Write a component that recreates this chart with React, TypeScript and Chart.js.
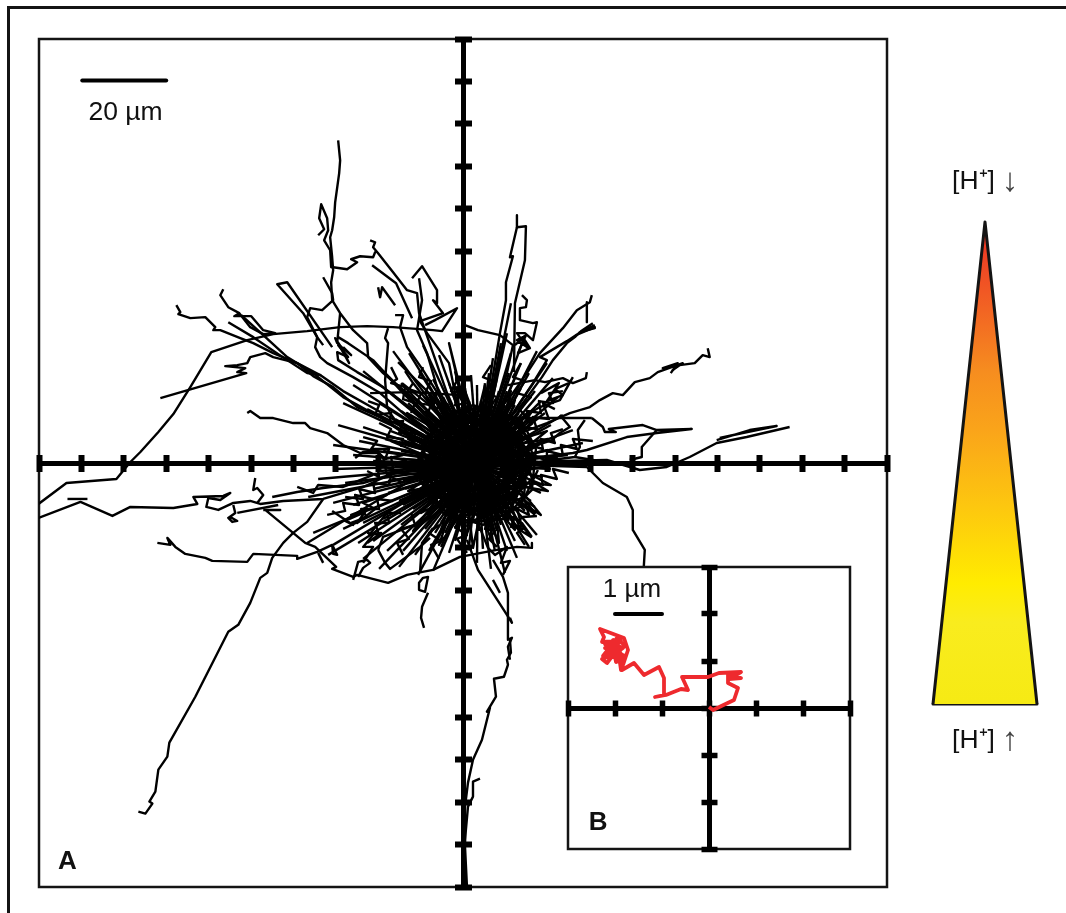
import React, { useEffect, useRef } from "react";
import { Chart, registerables } from "chart.js";

Chart.register(...registerables);

// Panel A readings: flat [x, y, x, y ...] lists, read in graph divisions of 10 um = 42.45 units.
const UNITS_PER_UM_A = 4.245;
const UNITS_PER_UM_B = 47;

const trackTop = [-125,323,-123,303,-124,290,-128,261,-129,246,-131,233,-133,226,-131,206,-130,193,-132,181,-131,163,-123,150,-110,133,-96,120,-95,106,-80,90,-56,70,-36,53,-6,26,15,5];
const trackWiggle = [-145,228,-139,234,-144,245,-142,259,-136,245,-135,233,-139,223,-133,213,-132,196,-130,196,-116,194,-106,201,-112,204,-103,207,-90,206,-88,211,-86,212];
const trackHook = [-140,186,-131,170,-130,163,-141,153,-153,155,-156,146,-146,126,-148,116,-143,106,-136,100,-110,86,-83,70,-60,50,-40,33,-6,10];
const trackArc = [-425,-41,-397,-20,-347,-16,-333,1,-323,11,-305,31,-290,49,-273,76,-252,111,-216,123,-190,129,-156,132,-123,136,-96,137,-70,136,-30,133,-21,132,-6,155,-28,143,-38,138];
const trackArcEnd = [2,138,15,133,37,128,50,118,44,90,30,50];
const trackLeftUp = [-303,65,-217,90,-226,91,-218,95,-238,97,-226,98,-216,100,-213,106,-198,110,-190,106,-166,100,-143,88,-120,72,-90,55,-60,38,-30,20,0,5];
const trackLeftHook = [-287,158,-283,151,-285,149,-273,145,-258,146,-248,136,-250,133,-243,133,-223,125,-210,120,-190,110,-166,100,-150,87,-130,76,-106,56,-83,46,-60,30,-36,16,-10,3];
const trackWedge = [-240,174,-243,168,-235,156,-224,150,-229,147,-212,147,-200,133,-188,130,-200,129,-213,136,-224,150];
const trackWedge2 = [-235,141,-210,126,-176,103,-156,90,-142,88];
const trackWedge3 = [-222,148,-200,128,-176,106,-150,90,-120,66,-80,44,-40,20];
const trackBlade = [-131,116,-176,181,-186,179,-160,150,-146,126,-140,118];
const trackNorth1 = [-93,223,-88,221,-90,216,-85,210,-70,191,-56,173,-46,170,-44,150,-30,110,-16,70,2,30];
const trackNorth2 = [-51,185,-41,197,-26,173,-26,160,-30,163,-20,150,-43,142,-36,130,-14,100,-6,60];
const trackNorth3 = [-44,185,-41,163,-46,133,-36,110,-23,66,-6,33];
const trackNorth4 = [-91,198,-75,186,-67,180,-51,145];
const trackNorth5 = [-85,176,-83,166,-81,176,-68,158];
const trackNorth6 = [-68,148,-60,148,-63,136,-56,116,-40,93,-23,66,-6,33];
const trackNorth7 = [-75,135,-78,125,-75,120,-78,83,-76,56,-73,50,-66,40,-30,10];
const trackNorth8 = [-123,150,-126,120,-128,125,-120,113,-125,118,-115,106,-126,111,-125,103,-106,91,-80,76,-46,50,-23,26];
const trackNorth9 = [-125,126,-115,120,-90,103,-60,70,-30,40];
const trackNorth10 = [-120,116,-112,108,-124,118,-114,100,-120,112,-116,104];
const trackNorth11 = [-65,101,-30,66,-10,30];
const trackNorth12 = [-93,70,-53,71,-3,68];
const trackNorth13 = [-61,80,-36,60,-8,30];
const trackNorth14 = [-10,80,0,60,-14,120,6,40];
const trackLower = [-216,50,-213,52,-203,45,-190,45,-170,40,-158,40,-153,35,-136,30,-120,18,-103,10,-86,10,-80,5,-76,-12,-60,-20];
const trackLower2 = [-108,5,-100,11,-86,12,-78,4];
const trackPeak1 = [54,248,54,236,63,237,62,203,52,160,51,91];
const trackPeak2 = [54,236,47,206,50,207,43,181,43,163,37,130,27,70,17,56];
const trackPeak3 = [48,160,36,100,28,60];
const trackScribble = [59,168,64,163,63,156,57,155,57,143,70,140,74,141,70,123,62,130,54,130,64,116,54,123,60,126,67,115,55,110,63,128,52,118];
const trackFork = [129,168,127,161,114,153,100,135,77,110,64,90,47,66,30,46];
const trackFork2 = [124,161,124,141];
const trackThick = [132,138,124,134,132,135,117,131,112,126,104,120,90,103,79,86,60,60,34,30];
const trackThick2 = [130,140,118,132,132,136,113,128,104,122,77,106,84,103,70,80,50,50];
const trackEast = [245,115,247,106,240,108,232,100,217,98,210,93,220,100,195,91,187,85,172,81,160,68,150,70,137,63,127,56,107,50,84,40,57,30,30,20];
const trackEast2 = [211,97,200,95,215,100,208,90];
const trackBranch = [124,91,123,85,110,80,100,85,82,81,72,83,45,78];
const trackBranch2 = [110,86,97,63,77,56,50,40];
const trackBranch3 = [106,80,92,74,100,68,84,62,96,80,78,70];
const trackRightA = [97,48,107,36,97,30,90,24];
const trackRightB = [129,45,140,36,142,31,153,31,146,34,180,38,194,33,229,34,194,30,164,26,124,13,110,10,60,4];
const trackRightC = [30,45,129,45];
const trackRightD = [194,33,179,16,179,6,167,3];
const trackRightE = [122,43,115,33,117,16,112,6,80,2];
const trackFar = [254,23,287,33,314,37,280,30,257,25];
const trackFar2 = [327,36,284,26,254,20,227,6,204,-4,177,-7,144,3,100,2,60,0];
const trackAxisNear = [112,6,130,3,144,0,170,-2];
const trackToInset = [60,-2,124,-4,140,-20,164,-34,170,-47,170,-67,182,-87,181,-104];
const trackSouthBlade = [74,-53,60,-54,54,-59];
const trackSouthBlade2 = [69,-74,59,-60,57,-67,68,-74,54,-56];
const trackSweep = [69,-80,69,-85,54,-84,34,-87,-3,-94,-30,-107,-56,-112,-75,-120,-106,-112,-110,-114,-131,-106,-127,-104,-148,-84,-158,-80,-198,-47,-183,-47,-200,-47];
const trackWestLong = [-425,-55,-383,-39,-351,-53,-333,-44,-290,-45,-266,-41,-270,-34,-240,-33,-233,-30,-243,-37,-255,-35,-257,-44,-245,-47,-230,-40,-213,-38,-203,-41,-180,-38,-140,-36,-100,-24,-63,-7];
const trackWestDash = [-396,-36,-376,-36];
const trackWestLoop = [-233,-54,-226,-58,-231,-59,-235,-55,-228,-50,-230,-42];
const trackWestLine = [-226,-50,-185,-42];
const trackWestStem = [-208,-15,-210,-27,-206,-25,-200,-32,-206,-40];
const trackWestUpper = [-191,-34,-166,-29,-140,-25,-100,-20,-60,-8];
const trackWestUpper2 = [-166,-24,-150,-30,-145,-22,-120,-24,-90,-12];
const trackWestCluster = [-131,-48,-110,-62,-118,-58,-100,-50,-112,-52,-96,-46,-106,-60,-88,-46,-100,-40,-76,-32];
const trackMidWest = [-306,-80,-293,-82,-296,-75,-288,-84,-278,-91,-258,-95,-251,-98,-216,-99,-210,-91,-166,-93,-166,-96,-146,-89,-131,-82,-126,-92,-130,-91,-131,-82];
const trackDiag1 = [-156,-80,-80,-34,-46,-14];
const trackDiag2 = [-130,-82,-43,-30];
const trackDiag3 = [-140,-100,-145,-90];
const trackLongDown = [-140,-36,-156,-59,-170,-70,-180,-80,-191,-95,-196,-110,-203,-115,-213,-140,-225,-162,-235,-169,-268,-234,-294,-280,-296,-294,-305,-307,-308,-329,-314,-339,-311,-341,-318,-351,-325,-349];
const trackPocket = [-110,-117,-108,-110,-105,-99,-96,-97,-93,-100,-100,-105,-105,-114];
const trackPocket2 = [-86,-67,-100,-84,-90,-84,-100,-100];
const trackPocket3 = [-76,-50,-86,-62,-94,-72,-82,-70,-96,-80];
const trackBox = [-85,-87,-78,-100,-73,-106,-43,-84,-33,-75];
const trackBox2 = [-85,-87,-80,-74,-43,-60,-20,-40];
const trackStem = [-43,-109,-41,-80,-30,-65];
const trackCurl = [-44,-127,-38,-129,-35,-114,-40,-115,-44,-120,-44,-127];
const trackCurl2 = [-35,-130,-41,-144,-42,-155,-39,-165];
const trackSouth1 = [4,-77,15,-107,44,-152,49,-160,47,-155];
const trackSouth2 = [30,-97,40,-114,45,-130,45,-177,49,-175,45,-184,47,-197];
const trackSouth3 = [30,-117,37,-130];
const trackSouth4 = [47,-177,48,-190,44,-197,45,-202,41,-214,31,-216,33,-234,24,-249,27,-245,19,-277,10,-297,5,-320,2,-344,2,-384,4,-425];
const trackSouth5 = [17,-316,10,-319,10,-334,5,-344,2,-377,0,-425];
const trackSouth6 = [15,-60,25,-85,32,-92,44,-84,38,-100,47,-98,40,-112];

// Tangled strands round the central cluster.
const tangleNW1 = [-58,92,-50,80,-54,74,-42,70,-46,60,-32,58,-36,48,-24,42];
const tangleNW2 = [-95,62,-84,58,-88,48,-72,50,-74,40,-60,42,-64,30,-48,30,-50,20];
const tangleNW3 = [-72,96,-66,84,-72,80,-58,76,-60,64,-48,60,-52,50];
const tangleNW4 = [-40,96,-44,86,-32,82,-38,70,-26,70,-30,56,-18,54];
const tangleN1 = [-5,84,-12,72,-2,70,-8,58,4,60];
const tangleN2 = [28,98,20,86,30,82,22,70,34,66,26,54];
const tangleNE1 = [58,100,50,86,62,82,54,70,68,66,56,54,66,44];
const tangleNE2 = [100,72,86,70,90,60,76,62,78,50,64,52,66,40];
const tangleNE3 = [92,54,80,60,86,44,70,46,74,34,60,36];
const tangleE1 = [130,22,110,24,114,14,98,18,100,8,84,12,84,2,70,8];
const tangleE2 = [100,34,88,30,92,20,78,24,80,14,66,18];
const tangleE3 = [106,-10,90,-6,94,-16,78,-12,80,-22,66,-16];
const tangleSE1 = [72,-44,62,-38,66,-52,54,-46,58,-60,46,-52];
const tangleSE2 = [62,-82,54,-70,60,-66,48,-64,52,-54,40,-56];
const tangleS1 = [34,-84,26,-76,32,-68,22,-66,26,-56];
const tangleS2 = [4,-90,-6,-76,4,-72,-8,-64,2,-58];
const tangleS3 = [-24,-96,-32,-82,-22,-78,-34,-70,-24,-62];
const tangleSW1 = [-60,-92,-66,-80,-54,-76,-62,-66,-48,-62,-52,-50];
const tangleSW2 = [-96,-70,-84,-72,-88,-60,-74,-60,-76,-50,-62,-50];
const tangleW1 = [-118,-34,-100,-36,-104,-26,-88,-30,-90,-20,-74,-22,-72,-12];
const tangleW2 = [-136,-52,-118,-48,-120,-40,-104,-42,-108,-32,-90,-36];
const tangleW3 = [-96,-8,-84,-14,-86,-2,-70,-6,-72,6,-56,2];
const tangleW4 = [-112,-60,-96,-54,-102,-46,-84,-46,-86,-36,-70,-38];
const tangleWN1 = [-100,26,-86,22,-92,14,-74,14,-78,4,-60,8];
const tangleWN2 = [-84,40,-72,34,-76,26,-60,24,-62,16];

// Back-and-forth passes that make up the solid core.
const coreA = [65,-2,6,47,-32,-19,40,-45,53,30,-23,30,-10,-45,62,-19,24,47,-35,-2,24,-51,62,15,-10,41,-23,-34,53,-34,40,41,-32,15,6,-51,65,-2];
const coreB = [60,6,-1,41,-25,-25,45,-37,45,33,-25,21,-1,-45,60,-10,15,44,-30,-10,31,-45,55,21,-15,33,-15,-37,55,-25,31,41,-30,6,15,-48,60,6];
const coreC = [71,3,39,49,-17,44,-41,-7,-9,-53,47,-48,71,3,66,22,20,54,-31,30,-36,-26,10,-58,61,-34,66,22,55,38,0,52,-39,12,-25,-42,29,-56,69,-16,55,38];
const coreD = [73,14,49,47,10,58,-27,40,-45,3,-34,-36,-1,-60,40,-56,69,-27,73,14,64,32,31,56,-10,52,-39,23,-43,-18,-19,-51,20,-62,57,-44,75,-7];
const coreE = [51,-2,9,33,-19,-14,33,-33,43,21,-13,21,-3,-33,49,-14,21,33,-21,-2,21,-37,49,10,-3,29,-13,-25,43,-25,33,29,-19,10,9,-37,51,-2];
const coreG = [58,23,15,48,-28,23,-28,-27,15,-52,58,-27,58,23,47,36,-2,45,-34,7,-17,-40,32,-49,64,-11,47,36,64,7,32,45,-17,36,-34,-11,-2,-49,47,-40,64,7];
const coreH = [53,30,6,47,-32,15,-23,-34,24,-51,62,-19,53,30,62,15,24,47,-23,30,-32,-19,6,-51,53,-34,62,15];
const coreI = [55,-2,29,36,-16,24,-20,-22,22,-41,54,-9,35,33,-11,29,-23,-16,15,-42,53,-16,41,29,-5,33,-24,-9,8,-41,50,-22,46,24,1,36,-25,-2,1,-40,46,-28,50,18,8,37,-24,5,-5,-37,41,-33,53,12,15,38,-23,12,-11,-33,35,-37,54,5,22,37,-20,18,-16,-28,29,-40,55,-2];
const fringeA = [90,-2,54,5,85,24,50,18,72,46,41,29,52,63,29,36,28,72,15,38,2,72,1,36,-22,63,-11,29,-42,46,-20,18,-55,24,-24,5,-60,-2,-24,-9,-55,-28,-20,-22,-42,-50,-11,-33,-22,-67,1,-40,2,-76,15,-42,28,-76,29,-40,52,-67,41,-33,72,-50,50,-22,85,-28,54,-9,90,-2];
const fringeB = [95,5,54,8,84,32,48,21,70,53,38,31,48,72,25,37,22,78,12,37,-6,76,-2,34,-34,68,-14,26,-56,50,-21,14,-72,22,-25,2,-75,-10,-24,-12,-65,-42,-18,-25,-50,-68,-8,-35,-24,-82,5,-41,10,-85,19,-42,36,-80,32,-38,58,-68,43,-30,78,-52,51,-19,88,-22,55,-5,95,5];

// Ends of the short runs leaving the central cluster, going round it.
const clusterCentre = [15, -2];
const clusterEndsX = [95,70,105,62,85,60,120,70,92,65,110,72,60,88,58,100,70,55,82,60,95,66,50,78,56,90,62,48,72,52,84,58,45,66,48,74,52,42,58,44,62,46,38,48,36,44,34,30,38,28,30,24,26,20,22,18,14,12,8,6,2,-2,-8,-8,-14,-16,-24,-20,-30,-26,-40,-30,-44,-32,-54,-38,-50,-38,-70,-46,-62,-44,-84,-55,-72,-50,-100,-62,-84,-54,-110,-68,-96,-60,-120,-72,-100,-58,-125,-78,-104,-62,-130,-80,-110,-60,-90,-64,-130,-85,-145,-68,-118,-75,-155,-90,-60,-130,-75,-110,-58,-150,-85,-120,-64,-100,-60,-135,-80,-105,-56,-90,-50,-100,-62,-76,-44,-84,-50,-60,-36,-64,-38,-48,-30,-45,-28,-34,-22,-30,-18,-22,-14,-14,-8,-8,-4,0,4,6,10,14,16,20,20,28,26,32,28,42,34,44,34,54,38,52,40,66,46,60,44,74,50,62,46,72,50,68,48,78,54,70,50,80,56,88,60,100,64];
const clusterEndsY = [2,5,8,8,13,12,20,18,24,22,33,30,28,38,32,48,40,36,50,42,66,52,42,62,50,85,60,46,72,58,100,75,55,90,66,112,85,58,100,72,128,90,62,110,72,130,85,62,120,72,105,66,90,60,80,62,78,58,88,62,75,56,92,62,80,60,108,66,84,60,118,70,92,60,110,66,80,52,112,64,80,50,96,60,70,44,92,52,60,36,78,44,54,30,60,32,36,20,38,24,22,12,18,12,8,4,2,-2,-6,-8,-16,-10,-20,-18,-34,-26,-18,-40,-30,-42,-26,-70,-44,-66,-38,-60,-42,-92,-56,-80,-44,-78,-46,-96,-62,-88,-50,-106,-64,-88,-52,-104,-66,-92,-56,-112,-70,-88,-60,-108,-70,-84,-58,-90,-66,-78,-58,-92,-64,-84,-58,-100,-68,-86,-56,-106,-68,-88,-56,-110,-68,-88,-56,-95,-62,-78,-52,-84,-58,-64,-46,-72,-50,-48,-38,-52,-32,-38,-24,-30,-22,-22,-14,-14,-10,-6,-4,-2,1];

const tracksA = [trackTop,trackWiggle,trackHook,trackArc,trackArcEnd,trackLeftUp,trackLeftHook,trackWedge,trackWedge2,trackWedge3,trackBlade,trackNorth1,trackNorth2,trackNorth3,trackNorth4,trackNorth5,trackNorth6,trackNorth7,trackNorth8,trackNorth9,trackNorth10,trackNorth11,trackNorth12,trackNorth13,trackNorth14,trackLower,trackLower2,trackPeak1,trackPeak2,trackPeak3,trackScribble,trackFork,trackFork2,trackThick,trackThick2,trackEast,trackEast2,trackBranch,trackBranch2,trackBranch3,trackRightA,trackRightB,trackRightC,trackRightD,trackRightE,trackFar,trackFar2,trackAxisNear,trackToInset,trackSouthBlade,trackSouthBlade2,trackSweep,trackWestLong,trackWestDash,trackWestLoop,trackWestLine,trackWestStem,trackWestUpper,trackWestUpper2,trackWestCluster,trackMidWest,trackDiag1,trackDiag2,trackDiag3,trackLongDown,trackPocket,trackPocket2,trackPocket3,trackBox,trackBox2,trackStem,trackCurl,trackCurl2,trackSouth1,trackSouth2,trackSouth3,trackSouth4,trackSouth5,trackSouth6,tangleNW1,tangleNW2,tangleNW3,tangleNW4,tangleN1,tangleN2,tangleNE1,tangleNE2,tangleNE3,tangleE1,tangleE2,tangleE3,tangleSE1,tangleSE2,tangleS1,tangleS2,tangleS3,tangleSW1,tangleSW2,tangleW1,tangleW2,tangleW3,tangleW4,tangleWN1,tangleWN2,coreA,coreB,coreC,coreD,coreE,coreG,coreH,coreI,fringeA,fringeB];

// Panel B: single red trace, read with 1 um = 47 units.
const traceB = [0,1,4,-2,25,8,29,20,19,25,19,33,32,30,20,29,32,36,10,35,-1,31,-27,31,-21,18,-28,19,-43,13,-54,11,-45,13,-45,30,-50,41,-65,33,-75,45,-87,38,-85,50,-93,46,-97,66,-86,48,-96,53,-102,45,-107,49,-90,55,-103,56,-90,62,-104,60,-88,67,-107,66,-105,71,-109,79,-85,70,-81,58,-85,46,-88,38,-90,52,-100,50,-86,60,-104,64,-92,48,-96,68,-88,54,-106,52,-92,70,-84,62,-98,58,-84,52];

// Scale bars in micrometres.
const barAX = [-89.8, -70];
const barAY = [90.2, 90.2];
const barBX = [-2, -1];
const barBY = [2, 2];

// Wedge outline.
const wedgeX = [-52, 0, 52];
const wedgeY = [0, 482, 0];
const wedgeBaseX = [-52, 52];
const wedgeBaseY = [0, 0];
const wedgeStops = [0, 0.15, 0.31, 0.43, 0.59, 0.75, 0.83, 1];
const wedgeColors = ["#ee2d24", "#f15a24", "#f68d1f", "#faa41a", "#fdc70f", "#ffec00", "#f9ec1e", "#f6ea14"];

const INK = "#000000";
const LINE = "#141414";
const FONT = '"Liberation Sans", Arial, sans-serif';

const toPoints = (flat: number[], unit: number) => {
  const out: { x: number; y: number }[] = [];
  for (let i = 0; i < flat.length; i += 2) out.push({ x: flat[i] / unit, y: flat[i + 1] / unit });
  return out;
};

type Label = { text: string; x: number; y: number; font: string; color?: string };

const labelPlugin = (labels: Label[]) => ({
  id: "labels",
  afterDraw(chart: any) {
    const { ctx, scales } = chart;
    ctx.save();
    ctx.textAlign = "center";
    ctx.textBaseline = "middle";
    for (const l of labels) {
      ctx.font = l.font;
      ctx.fillStyle = l.color || "#111";
      ctx.fillText(l.text, scales.x.getPixelForValue(l.x), scales.y.getPixelForValue(l.y));
    }
    ctx.restore();
  },
});

const framePlugin = {
  id: "frame",
  beforeDraw(chart: any) {
    const { ctx, chartArea: a } = chart;
    ctx.save();
    ctx.fillStyle = "#fff";
    ctx.fillRect(a.left, a.top, a.right - a.left, a.bottom - a.top);
    ctx.strokeStyle = LINE;
    ctx.lineWidth = 2.5;
    ctx.strokeRect(a.left, a.top, a.right - a.left, a.bottom - a.top);
    ctx.restore();
  },
};

const crossAxis = (axis: "x" | "y", other: string, span: number, step: number, len: number, w: number, tw: number) => ({
  type: "linear",
  axis,
  min: -span,
  max: span,
  position: { [other]: 0 },
  border: { display: true, width: w, color: INK },
  grid: { drawOnChartArea: false, drawTicks: true, tickLength: len, tickWidth: tw, tickColor: INK },
  ticks: { display: false, stepSize: step, autoSkip: false },
});

const crossScales = (span: number, step: number, shortLen: number, longLen: number, w: number, tw: number) => ({
  x: crossAxis("x", "y", span, step, shortLen, w, tw),
  x2: crossAxis("x", "y", span, step, -longLen, w, tw),
  y: crossAxis("y", "x", span, step, shortLen, w, tw),
  y2: crossAxis("y", "x", span, step, -longLen, w, tw),
});

const lineSet = (data: any[], color: string, width: number, cap: CanvasLineCap = "butt") => ({
  data,
  showLine: true,
  fill: false,
  pointRadius: 0,
  borderColor: color,
  borderWidth: width,
  borderCapStyle: cap,
  borderJoinStyle: "round" as const,
  tension: 0,
});

const zip = (xs: number[], ys: number[]) => xs.map((x, i) => ({ x, y: ys[i] }));

export default function App() {
  const aRef = useRef<HTMLCanvasElement>(null);
  const bRef = useRef<HTMLCanvasElement>(null);
  const cRef = useRef<HTMLCanvasElement>(null);

  useEffect(() => {
    const base = {
      responsive: false,
      animation: false as const,
      plugins: { legend: { display: false }, tooltip: { enabled: false } },
    };

    const spokes = clusterEndsX.map((x, i) =>
      lineSet(toPoints([clusterCentre[0], clusterCentre[1], x, clusterEndsY[i]], UNITS_PER_UM_A), INK, 2.4)
    );

    const a = new Chart(aRef.current as any, {
      type: "scatter",
      data: {
        datasets: [
          ...tracksA.map((t) => lineSet(toPoints(t, UNITS_PER_UM_A), INK, 2.4)),
          ...spokes,
          lineSet(zip(barAX, barAY), INK, 4, "round"),
        ],
      },
      options: {
        ...base,
        layout: { padding: { left: 39, top: 39, right: 179, bottom: 26 } },
        scales: crossScales(100, 10, 6, 11, 5, 6) as any,
      },
      plugins: [
        framePlugin,
        labelPlugin([
          { text: "20 µm", x: -79.6, y: 82.7, font: `26.5px ${FONT}` },
          { text: "A", x: -93.3, y: -94, font: `bold 26px ${FONT}` },
        ]),
      ],
    } as any);

    const b = new Chart(bRef.current as any, {
      type: "scatter",
      data: {
        datasets: [
          lineSet(toPoints(traceB, UNITS_PER_UM_B), "#ee2a2e", 3.8),
          lineSet(zip(barBX, barBY), INK, 4, "round"),
        ],
      },
      options: {
        ...base,
        layout: { padding: 10 },
        scales: crossScales(3, 1, 5.5, 10.5, 5, 5.5) as any,
      },
      plugins: [
        framePlugin,
        labelPlugin([
          { text: "1 µm", x: -1.64, y: 2.51, font: `26px ${FONT}` },
          { text: "B", x: -2.36, y: -2.45, font: `bold 26px ${FONT}` },
        ]),
      ],
    } as any);

    const cCanvas = cRef.current as HTMLCanvasElement;
    const grad = cCanvas.getContext("2d")!.createLinearGradient(0, 72, 0, 554);
    wedgeStops.forEach((s, i) => grad.addColorStop(s, wedgeColors[i]));
    const c = new Chart(cCanvas as any, {
      type: "scatter",
      data: {
        datasets: [
          {
            ...lineSet(zip(wedgeX, wedgeY), LINE, 3),
            fill: "origin",
            backgroundColor: grad,
          },
          lineSet(zip(wedgeBaseX, wedgeBaseY), LINE, 3, "round"),
        ],
      },
      options: {
        ...base,
        layout: { padding: 0 },
        scales: {
          x: { type: "linear", min: -85, max: 81, display: false },
          y: { type: "linear", min: -66, max: 554, display: false },
        },
      },
      plugins: [
        labelPlugin([
          { text: "[H⁺]", x: -11.5, y: 522, font: `26.5px ${FONT}` },
          { text: "↓", x: 25, y: 522, font: `33px ${FONT}`, color: "#444" },
          { text: "[H⁺]", x: -11.5, y: -37, font: `26.5px ${FONT}` },
          { text: "↑", x: 25, y: -37, font: `33px ${FONT}`, color: "#444" },
        ]),
      ],
    } as any);

    return () => {
      a.destroy();
      b.destroy();
      c.destroy();
    };
  }, []);

  const abs = (left: number, top: number): React.CSSProperties => ({ position: "absolute", left, top, display: "block" });

  return (
    <div style={{ position: "absolute", left: 0, top: 0, width: 1066, height: 913, overflow: "hidden", background: "#fff" }}>
      <div style={{ position: "absolute", left: 7, top: 6, right: 0, bottom: 0, borderLeft: `3px solid ${LINE}`, borderTop: `3px solid ${LINE}` }} />
      <canvas ref={aRef} width={1066} height={913} style={abs(0, 0)} />
      <canvas ref={bRef} width={302} height={302} style={abs(558, 557)} />
      <canvas ref={cRef} width={166} height={620} style={abs(900, 150)} />
    </div>
  );
}
